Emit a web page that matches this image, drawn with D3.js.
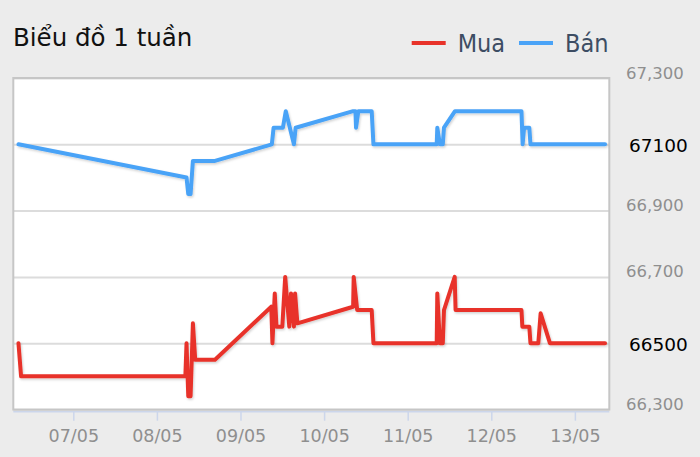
<!DOCTYPE html>
<html lang="vi">
<head>
    <meta charset="UTF-8">
    <title>Biểu đồ 1 tuần</title>
    <style>
        html, body {
            margin: 0;
            padding: 0;
            background-color: #ececec;
        }
        svg {
            display: block;
            font-family: 'DejaVu Sans', sans-serif;
        }
    </style>
</head>
<body>
    <div id="chart"></div>
    <script src="https://d3js.org/d3.v7.min.js"></script>
    <script>
        // DATA
        const muaTimes = [
            "06/05 08:15", "06/05 09:00", "08/05 08:10", "08/05 08:30", "08/05 09:00", "08/05 09:40",
            "08/05 10:20", "08/05 11:00", "08/05 16:40", "09/05 08:50", "09/05 09:10", "09/05 09:50",
            "09/05 10:20", "09/05 12:00", "09/05 12:50", "09/05 14:00", "09/05 14:30", "09/05 15:20",
            "09/05 15:40", "09/05 16:20", "10/05 08:20", "10/05 08:30", "10/05 09:00", "10/05 09:30",
            "10/05 13:40", "10/05 14:10", "11/05 08:20", "11/05 08:30", "11/05 09:15", "11/05 10:05",
            "11/05 10:25", "11/05 13:30", "11/05 13:45", "12/05 08:40", "12/05 08:55", "12/05 10:55",
            "12/05 11:15", "12/05 13:30", "12/05 14:10", "12/05 16:50", "13/05 08:40"
        ];
        const muaValues = [
            66500, 66400, 66400, 66500, 66340, 66340,
            66560, 66450, 66450, 66610, 66500, 66650,
            66550, 66550, 66700, 66550, 66650, 66550,
            66650, 66560, 66610, 66700, 66650, 66600,
            66600, 66500, 66500, 66650, 66500, 66500,
            66600, 66700, 66600, 66600, 66550, 66550,
            66500, 66500, 66590, 66500, 66500
        ];
        const banTimes = [
            "06/05 08:15", "08/05 08:30", "08/05 09:00", "08/05 09:40", "08/05 10:20", "08/05 16:40",
            "09/05 09:00", "09/05 09:30", "09/05 12:10", "09/05 13:00", "09/05 15:20", "09/05 15:50",
            "10/05 08:20", "10/05 09:00", "10/05 09:10", "10/05 09:50", "10/05 13:40", "10/05 14:10",
            "11/05 08:20", "11/05 08:30", "11/05 09:15", "11/05 10:05", "11/05 10:25", "11/05 13:35",
            "12/05 08:40", "12/05 09:00", "12/05 09:25", "12/05 10:55", "12/05 11:15", "13/05 08:40"
        ];
        const banValues = [
            67100, 67000, 66950, 66950, 67050, 67050,
            67100, 67150, 67150, 67200, 67100, 67150,
            67200, 67200, 67150, 67200, 67200, 67100,
            67100, 67150, 67100, 67100, 67150, 67200,
            67200, 67100, 67150, 67150, 67100, 67100
        ];
        const yTicks = [66300, 66500, 66700, 66900, 67100, 67300];
        const xTicks = ["07/05", "08/05", "09/05", "10/05", "11/05", "12/05", "13/05"];
        const xStart = "06/05 06:46";
        const xEnd = "13/05 09:53";

        const width = 700;
        const height = 457;
        const plot = {left: 13.3, right: 609.3, top: 78, bottom: 409.5};
        const colours = {mua: "#e8332a", ban: "#4aa3f7"};
        const font = "'DejaVu Sans', sans-serif";

        const parseTime = d3.timeParse("%d/%m %H:%M");
        const parseDay = d3.timeParse("%d/%m");

        const svg = d3.select("#chart")
            .append("svg")
            .attr("width", width)
            .attr("height", height);

        // SHADOW FOR THE SERIES LINES
        svg.append("defs")
            .append("filter")
            .attr("id", "shadow")
            .attr("x", "-5%").attr("y", "-5%")
            .attr("width", "110%").attr("height", "110%")
            .append("feDropShadow")
            .attr("dx", 1).attr("dy", 1.5)
            .attr("stdDeviation", 1)
            .attr("flood-color", "#000")
            .attr("flood-opacity", 0.18);

        // SCALES
        const x = d3.scaleTime()
            .domain([parseTime(xStart), parseTime(xEnd)])
            .range([plot.left, plot.right]);
        const y = d3.scaleLinear()
            .domain([66300, 67300])
            .range([plot.bottom, plot.top]);

        // PLOT BACKGROUND
        svg.append("rect")
            .attr("x", plot.left)
            .attr("y", plot.top)
            .attr("width", plot.right - plot.left)
            .attr("height", plot.bottom - plot.top)
            .style("fill", "#fff");

        // GRID LINES
        const grid = svg.append("g")
            .attr("transform", `translate(${plot.left}, 0)`)
            .call(d3.axisLeft(y)
                .tickValues(yTicks)
                .tickSize(-(plot.right - plot.left))
                .tickFormat(""));
        grid.select(".domain").remove();
        grid.selectAll("line")
            .style("stroke", "#dcdcdc")
            .style("stroke-width", 2);

        // PLOT BORDER
        svg.append("rect")
            .attr("x", plot.left)
            .attr("y", plot.top)
            .attr("width", plot.right - plot.left)
            .attr("height", plot.bottom - plot.top)
            .style("fill", "none")
            .style("stroke", "#c6c6c6")
            .style("stroke-width", 2);

        // X AXIS
        const xAxis = svg.append("g")
            .attr("transform", `translate(0, ${plot.bottom + 2.2})`)
            .call(d3.axisBottom(x)
                .tickValues(xTicks.map(d => parseDay(d)))
                .tickSize(9)
                .tickFormat(d3.timeFormat("%d/%m")))
            .attr("font-family", font);
        xAxis.select(".domain")
            .attr("d", `M${plot.left},0H${plot.right}`)
            .style("stroke", "#ccd6eb")
            .style("stroke-width", 1.5);
        xAxis.selectAll("line")
            .style("stroke", "#ccd6eb")
            .style("stroke-width", 1.5);
        xAxis.selectAll("text")
            .attr("y", 30)
            .attr("dy", 0)
            .style("font-size", "17.5px")
            .style("fill", "#8f8f8f");

        // Y AXIS LABELS (last values are drawn in black instead)
        const lastMua = muaValues[muaValues.length - 1];
        const lastBan = banValues[banValues.length - 1];
        const yAxis = svg.append("g")
            .attr("transform", "translate(626, 0)")
            .call(d3.axisRight(y)
                .tickValues(yTicks.filter(d => d !== lastMua && d !== lastBan))
                .tickSize(0)
                .tickPadding(0)
                .tickFormat(d3.format(",")))
            .attr("font-family", font);
        yAxis.select(".domain").remove();
        yAxis.selectAll("text")
            .attr("dy", 0)
            .style("font-size", "16.5px")
            .style("fill", "#8f8f8f");

        svg.selectAll(".last-value")
            .data([lastBan, lastMua])
            .enter()
            .append("text")
            .attr("class", "last-value")
            .attr("x", 629)
            .attr("y", d => y(d) + 8)
            .style("font-size", "18.5px")
            .style("fill", "#000")
            .text(d => d);

        // SERIES LINES
        const line = d3.line()
            .x(d => x(d[0]))
            .y(d => y(d[1]));

        const series = [
            {key: "mua", times: muaTimes, values: muaValues},
            {key: "ban", times: banTimes, values: banValues}
        ];
        svg.selectAll(".series")
            .data(series)
            .enter()
            .append("path")
            .attr("class", "series")
            .attr("d", s => line(s.times.map((t, i) => [parseTime(t), s.values[i]])))
            .attr("filter", "url(#shadow)")
            .style("fill", "none")
            .style("stroke", s => colours[s.key])
            .style("stroke-width", 4)
            .style("stroke-linejoin", "round")
            .style("stroke-linecap", "round");

        // TITLE
        svg.append("text")
            .attr("x", 13)
            .attr("y", 45.7)
            .style("font-size", "24.5px")
            .style("fill", "#111")
            .text("Biểu đồ 1 tuần");

        // LEGEND
        const legendItems = [
            {key: "mua", label: "Mua", x: 411.7},
            {key: "ban", label: "Bán", x: 519}
        ];
        const legend = svg.selectAll(".legend")
            .data(legendItems)
            .enter()
            .append("g")
            .attr("class", "legend")
            .attr("transform", d => `translate(${d.x}, 0)`);
        legend.append("line")
            .attr("x1", 0).attr("x2", 34)
            .attr("y1", 43).attr("y2", 43)
            .style("stroke", d => colours[d.key])
            .style("stroke-width", 4);
        legend.append("text")
            .attr("x", 46)
            .attr("y", 51.7)
            .style("font-family", "'DejaVu Sans Condensed', 'DejaVu Sans', sans-serif")
            .style("font-stretch", "condensed")
            .style("font-size", "25px")
            .style("fill", "#3d4d63")
            .text(d => d.label);
    </script>
</body>
</html>
